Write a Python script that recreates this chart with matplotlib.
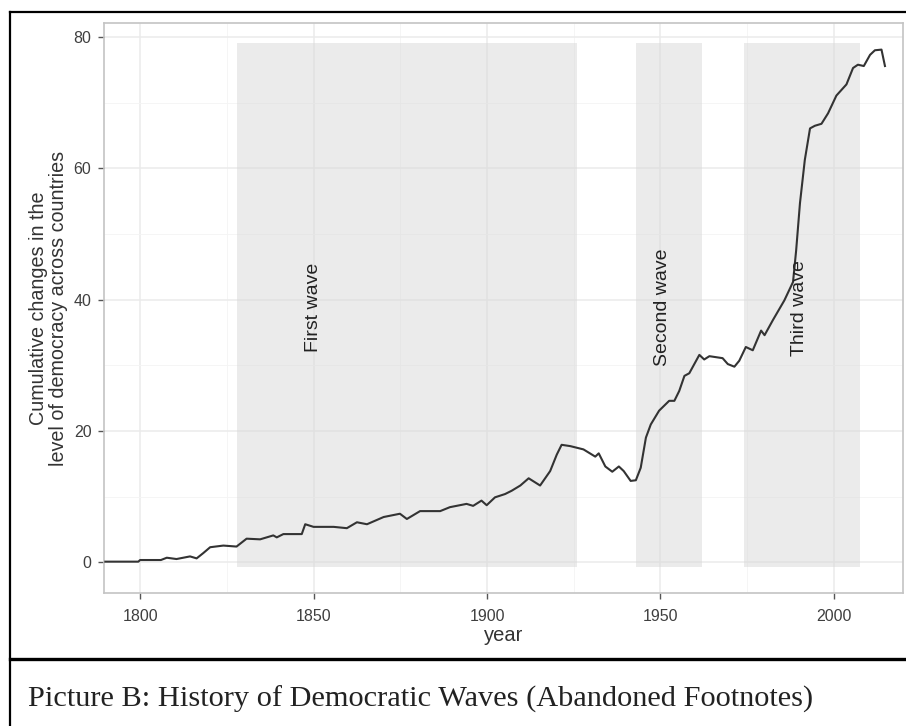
import matplotlib
matplotlib.use('Agg')
import matplotlib.pyplot as plt
from matplotlib.lines import Line2D

plt.rcParams['font.family'] = ['Liberation Sans', 'DejaVu Sans']

# Cumulative changes in democracy
years = [1790, 1799.5, 1800, 1806, 1807.7, 1810.5, 1814.4, 1816.3, 1818.2, 1820.2,
         1824, 1827.8, 1830.7, 1834.6, 1836.5, 1838.4, 1839.4, 1841.3, 1846.6, 1847.6,
         1850, 1855.8, 1859.6, 1862.5, 1865.4, 1870.2, 1874.9, 1876.9, 1880.7, 1886.5,
         1889.3, 1894.1, 1896, 1898.4, 1899.9, 1902.3, 1905.2, 1907.1, 1909.6, 1912,
         1915.3, 1918.2, 1920.1, 1921.5, 1924, 1927.8, 1931.2, 1932.2, 1934.1, 1936.1,
         1938, 1939.4, 1941.4, 1942.9, 1944.3, 1945.8, 1947.2, 1949.6, 1952.5, 1954,
         1955.4, 1956.9, 1958.3, 1961.2, 1962.6, 1964.1, 1967.9, 1969.4, 1971.3, 1972.7,
         1974.6, 1976.6, 1979, 1980, 1982.4, 1985.7, 1988.2, 1989.1, 1990.2, 1991.6,
         1993.1, 1994.5, 1996.4, 1998.3, 2000.7, 2003.6, 2005.5, 2006.9, 2008.6, 2010.4,
         2011.8, 2013.7, 2014.7]
values = [0.1, 0.1, 0.35, 0.35, 0.7, 0.5, 0.9, 0.6, 1.4, 2.3,
          2.55, 2.4, 3.6, 3.5, 3.8, 4.1, 3.8, 4.3, 4.3, 5.8,
          5.4, 5.4, 5.2, 6.1, 5.8, 6.9, 7.4, 6.6, 7.8, 7.8,
          8.4, 8.9, 8.6, 9.4, 8.7, 9.9, 10.4, 10.9, 11.7, 12.8,
          11.7, 13.9, 16.4, 17.9, 17.7, 17.2, 16.1, 16.6, 14.6, 13.8,
          14.6, 13.9, 12.4, 12.5, 14.4, 19.0, 21.0, 23.1, 24.6, 24.6,
          26.1, 28.4, 28.8, 31.6, 30.9, 31.4, 31.1, 30.2, 29.8, 30.7,
          32.8, 32.3, 35.3, 34.6, 36.9, 39.9, 42.7, 47.5, 54.7, 61.3,
          66.1, 66.5, 66.8, 68.4, 71.1, 72.8, 75.3, 75.8, 75.6, 77.3,
          78.0, 78.1, 75.6]

wave_names = ['First wave', 'Second wave', 'Third wave']
wave_start = [1828, 1943, 1974]
wave_end = [1926, 1962, 2007.5]
wave_label_x = [1850, 1950.5, 1990]
wave_label_y = 38.8

fig = plt.figure(figsize=(9.06, 7.26), dpi=100)
ax = fig.add_axes([104/906, 1 - 593.3/726, 799/906, 570.6/726])

ax.set_xlim(1789.6, 2019.9)
ax.set_ylim(-4.72, 82.2)

# grid like theme_bw
ax.set_xticks([1800, 1850, 1900, 1950, 2000])
ax.set_xticks([1825, 1875, 1925, 1975], minor=True)
ax.set_yticks([0, 20, 40, 60, 80])
ax.set_yticks([10, 30, 50, 70], minor=True)
ax.grid(which='major', color='#ebebeb', lw=1.1)
ax.grid(which='minor', color='#f4f4f4', lw=0.6)
ax.set_axisbelow(True)

for s, e in zip(wave_start, wave_end):
    ax.axvspan(s, e, ymin=(-0.67 + 4.72) / 86.92, ymax=(79.1 + 4.72) / 86.92,
               color='#d8d8d8', alpha=0.5, lw=0, zorder=1)

ax.plot(years, values, color='#333333', lw=1.5, zorder=3)

for name, x in zip(wave_names, wave_label_x):
    ax.text(x, wave_label_y, name, rotation=90, ha='center', va='center',
            fontsize=14, color='#222222', zorder=4)

for sp in ax.spines.values():
    sp.set_color('#c4c4c4')
    sp.set_linewidth(1.2)
ax.tick_params(which='major', length=4, width=1, color='#555555',
               labelsize=11.5, labelcolor='#3f3f3f', pad=5)
ax.tick_params(which='minor', length=0)
ax.tick_params(axis='x', pad=7)

ax.set_xlabel('year', fontsize=14.5, color='#333333', labelpad=2)
ax.set_ylabel('Cumulative changes in the\nlevel of democracy across countries',
              fontsize=14.2, color='#333333', labelpad=4, linespacing=1.1)

# outer frame and caption strip
fig.add_artist(Line2D([10/906, 1], [1 - 12/726, 1 - 12/726], color='black', lw=1.6,
                      transform=fig.transFigure))
fig.add_artist(Line2D([10/906, 10/906], [0, 1 - 12/726], color='black', lw=1.6,
                      transform=fig.transFigure))
fig.add_artist(Line2D([10/906, 1], [1 - 658.5/726, 1 - 658.5/726], color='black', lw=2.4,
                      transform=fig.transFigure))
fig.text(28/906, 1 - 706.5/726, 'Picture B: History of Democratic Waves (Abandoned Footnotes)',
         family='Liberation Serif', fontsize=21.9, color='#222222', va='baseline')

fig.savefig('out.png', dpi=100)
